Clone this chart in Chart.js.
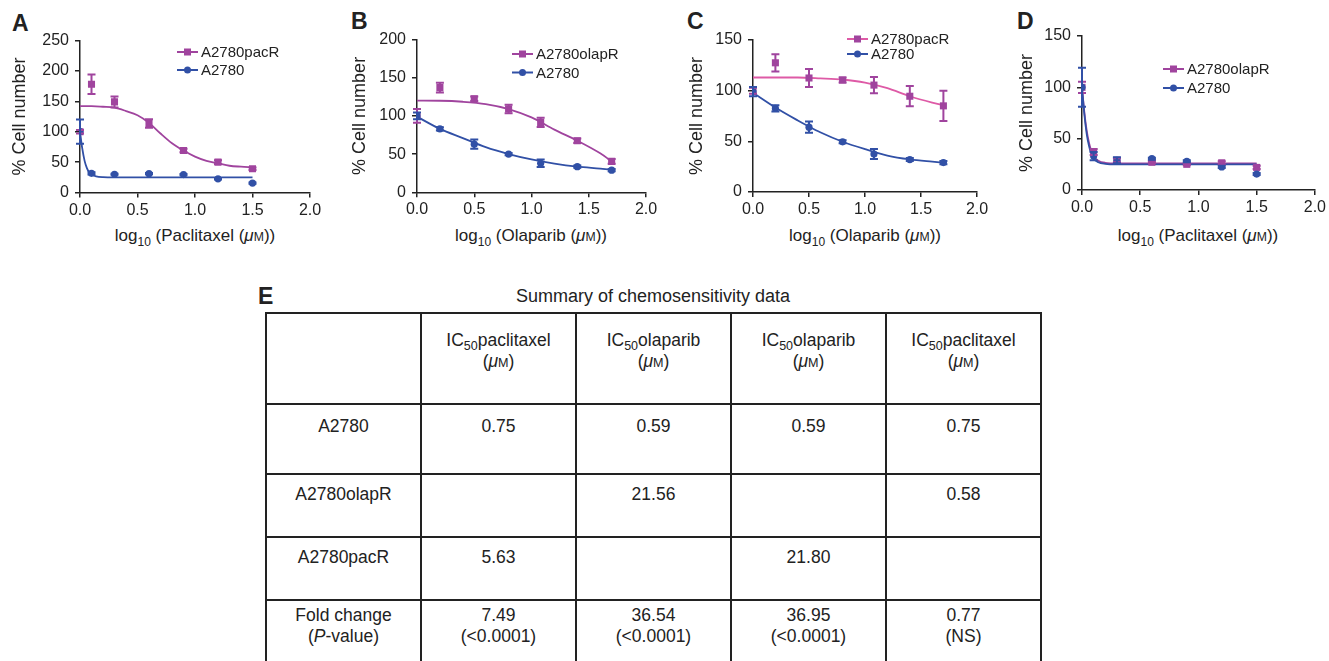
<!DOCTYPE html>
<html>
<head>
<meta charset="utf-8">
<script src="https://cdn.jsdelivr.net/npm/chart.js@4.4.1/dist/chart.umd.min.js"></script>
<style>
  body { margin: 0; width: 1329px; height: 661px; overflow: hidden; background: #fff; position: relative;
         font-family: 'Liberation Sans', Arial, sans-serif; color: #222; }
  canvas { position: absolute; top: 0; }
  .lbl { position: absolute; font-weight: bold; font-size: 23px; line-height: 23px; }
  .xt { position: absolute; top: 226px; font-size: 17px; line-height: 20px; white-space: nowrap; transform: translateX(-50%); }
  .xt sub { font-size: 12px; vertical-align: -5px; line-height: 0; }
  .sm { font-size: 0.72em; }
  #title { position: absolute; left: 265px; width: 776px; top: 286px; text-align: center; font-size: 18px; line-height: 20px; }
  #tbl { position: absolute; left: 265px; top: 312px; border-collapse: collapse; table-layout: fixed; }
  #tbl td { border: 2px solid #222; text-align: center; vertical-align: top; font-size: 17.5px; line-height: 21px;
            padding: 0; box-sizing: border-box; }
  #tbl sub { font-size: 12.5px; vertical-align: -4px; line-height: 0; }
</style>
</head>
<body>
<div class="lbl" style="left:12px;top:12px">A</div>
<div class="lbl" style="left:351px;top:10px">B</div>
<div class="lbl" style="left:687px;top:10px">C</div>
<div class="lbl" style="left:1017px;top:10px">D</div>
<div class="lbl" style="left:258px;top:285px">E</div>

<canvas id="chartA" width="325" height="225" style="left:0px"></canvas>
<canvas id="chartB" width="321" height="225" style="left:340px"></canvas>
<canvas id="chartC" width="315" height="225" style="left:677px"></canvas>
<canvas id="chartD" width="322" height="225" style="left:1007px"></canvas>

<div class="xt" style="left:195px">log<sub>10</sub> (Paclitaxel (<i>μ</i><span class="sm">M</span>))</div>
<div class="xt" style="left:531px">log<sub>10</sub> (Olaparib (<i>μ</i><span class="sm">M</span>))</div>
<div class="xt" style="left:865px">log<sub>10</sub> (Olaparib (<i>μ</i><span class="sm">M</span>))</div>
<div class="xt" style="left:1198px">log<sub>10</sub> (Paclitaxel (<i>μ</i><span class="sm">M</span>))</div>

<div id="title">Summary of chemosensitivity data</div>
<table id="tbl"></table>

<script>
// x positions (log10 concentration)
const xPaclitaxel = [0, 0.1, 0.3, 0.6, 0.9, 1.2, 1.5];
const xOlaparib = [0, 0.2, 0.5, 0.8, 1.08, 1.4, 1.7];

// Panel A - paclitaxel, A2780pacR vs A2780
const aPacR = [100, 178, 149, 113.5, 69, 50, 39];
const aPacRErr = [3, 16, 9, 7, 3, 3, 2];
const aParent = [100, 31.5, 30, 31, 29.5, 22.5, 15.5];
const aParentErr = [20, 2, 1, 1, 1, 1, 1];
const aPacRFitX = [0, 0.1, 0.2, 0.3, 0.4, 0.5, 0.6, 0.7, 0.8, 0.9, 1.0, 1.1, 1.2, 1.3, 1.4, 1.5];
const aPacRFitY = [142, 142, 141, 139.5, 134, 127, 114.5, 97, 81, 69, 59, 52, 48, 44, 42.5, 41.5];
const aParentFitX = [0, 0.02, 0.04, 0.06, 0.08, 0.1, 0.14, 0.2, 0.3, 1.5];
const aParentFitY = [100, 72, 52, 40, 33, 29.5, 26.5, 25.3, 25, 25];
const aLegend = ['A2780pacR', 'A2780'];

// Panel B - olaparib, A2780olapR vs A2780
const bOlapR = [100, 137, 122.5, 109, 91.5, 67.5, 40.5];
const bOlapRErr = [9, 6.5, 3, 5.5, 6, 3, 3];
const bParent = [100, 83, 63, 50, 38, 33.5, 29];
const bParentErr = [4.5, 2, 6, 1.5, 5, 1.5, 1.5];
const bOlapRFitX = [0, 0.2, 0.4, 0.6, 0.8, 1.0, 1.2, 1.4, 1.6, 1.7];
const bOlapRFitY = [120, 119.8, 118.5, 115.5, 109, 98, 82, 67.5, 51, 40.5];
const bParentFitX = [0, 0.2, 0.4, 0.6, 0.8, 1.0, 1.2, 1.4, 1.6, 1.7];
const bParentFitY = [99, 83, 71, 59, 50, 43, 37.5, 33.5, 31, 29.6];
const bLegend = ['A2780olapR', 'A2780'];

// Panel C - olaparib, A2780pacR vs A2780
const cPacR = [100, 127.5, 112.5, 110.5, 105.5, 94.5, 85];
const cPacRErr = [3, 8.5, 9, 2.5, 8, 10, 15];
const cParent = [99, 82.5, 64, 49.5, 37.5, 32, 29];
const cParentErr = [4.5, 3, 5.5, 1.5, 5, 1.5, 1.5];
const cPacRFitX = [0, 0.2, 0.4, 0.6, 0.8, 1.0, 1.2, 1.4, 1.6, 1.7];
const cPacRFitY = [113, 113, 113, 112.2, 111, 108, 102.4, 94.5, 88.3, 85.7];
const cParentFitX = [0, 0.2, 0.4, 0.5, 0.6, 0.8, 1.0, 1.2, 1.4, 1.6, 1.7];
const cParentFitY = [98, 83.4, 70.6, 64.6, 59, 49.6, 42.3, 36, 32.2, 29.9, 28.9];
const cLegend = ['A2780pacR', 'A2780'];

// Panel D - paclitaxel, A2780olapR vs A2780
const dOlapR = [100, 37, 29, 27, 25, 26.5, 22];
const dOlapRErr = [5.5, 3, 2, 1, 1, 1.5, 1.5];
const dParent = [100, 33, 29, 30.5, 28, 22.5, 15.5];
const dParentErr = [19, 4, 3, 1, 1, 1, 1];
const dOlapRFitX = [0, 0.02, 0.04, 0.06, 0.08, 0.1, 0.14, 0.2, 0.3, 1.5];
const dOlapRFitY = [100, 76, 58, 46, 38, 33, 28.5, 26.5, 26, 26];
const dParentFitX = [0, 0.02, 0.04, 0.06, 0.08, 0.1, 0.14, 0.2, 0.3, 1.5];
const dParentFitY = [100, 74, 55, 43, 35, 30.5, 27, 25.5, 25, 25];
const dLegend = ['A2780olapR', 'A2780'];

const xTicks = [0, 0.5, 1.0, 1.5, 2.0];

// Panel E table
const tableHeads = ['IC<sub>50</sub>paclitaxel', 'IC<sub>50</sub>olaparib', 'IC<sub>50</sub>olaparib', 'IC<sub>50</sub>paclitaxel'];
const tableRowNames = ['A2780', 'A2780olapR', 'A2780pacR', 'Fold change<br>(<i>P</i>-value)'];
const tableCells = [
  ['0.75', '0.59', '0.59', '0.75'],
  ['', '21.56', '', '0.58'],
  ['5.63', '', '21.80', ''],
  ['7.49<br>(&lt;0.0001)', '36.54<br>(&lt;0.0001)', '36.95<br>(&lt;0.0001)', '0.77<br>(NS)']
];

const BLUE = '#3150a6';
const MAG = '#a0449e';
const PINK = '#de5aa6';
const FONT = "'Liberation Sans', Arial, sans-serif";

Chart.defaults.font.family = FONT;
Chart.defaults.color = '#222';

function pts(xs, ys) {
  return xs.map((x, i) => ({ x, y: ys[i] }));
}

const errorBars = {
  id: 'errorBars',
  afterDatasetsDraw(chart) {
    const { ctx, scales: { x, y } } = chart;
    for (let i = chart.data.datasets.length - 1; i >= 0; i--) {
      const ds = chart.data.datasets[i];
      if (!ds.yErr) continue;
      ctx.save();
      ctx.strokeStyle = ds.borderColor;
      ctx.lineWidth = 2;
      ds.data.forEach((p, j) => {
        const e = ds.yErr[j];
        if (!e) return;
        const px = x.getPixelForValue(p.x);
        const top = y.getPixelForValue(p.y + e);
        const bot = y.getPixelForValue(p.y - e);
        ctx.beginPath();
        ctx.moveTo(px, top); ctx.lineTo(px, bot);
        ctx.moveTo(px - 4, top); ctx.lineTo(px + 4, top);
        ctx.moveTo(px - 4, bot); ctx.lineTo(px + 4, bot);
        ctx.stroke();
      });
      ctx.restore();
    }
  }
};

const inLegend = {
  id: 'inLegend',
  afterDraw(chart, args, opts) {
    const ctx = chart.ctx;
    ctx.save();
    ctx.font = '15px ' + FONT;
    ctx.textBaseline = 'middle';
    opts.items.forEach((it, i) => {
      const y = opts.rows[i];
      ctx.strokeStyle = it.line;
      ctx.lineWidth = 2;
      ctx.beginPath(); ctx.moveTo(opts.x, y); ctx.lineTo(opts.x + 21, y); ctx.stroke();
      ctx.fillStyle = it.mark;
      const cx = opts.x + 10.5;
      if (it.shape === 'rect') ctx.fillRect(cx - 3.5, y - 3.5, 7, 7);
      else { ctx.beginPath(); ctx.arc(cx, y, 3.5, 0, Math.PI * 2); ctx.fill(); }
      ctx.fillStyle = '#222';
      ctx.fillText(it.label, opts.x + 24, y + 1);
    });
    ctx.restore();
  }
};

function drawPanel(id, d, lay) {
  const axisStyle = {
    grid: { drawOnChartArea: false, tickLength: 5, color: '#222', lineWidth: 1.5 },
    border: { color: '#222', width: 1.5 }
  };
  return new Chart(document.getElementById(id), {
    type: 'scatter',
    data: {
      datasets: [
        { data: pts(d.x, d.blue), yErr: d.blueErr, backgroundColor: BLUE, borderColor: BLUE,
          pointStyle: 'circle', pointRadius: 3.6, borderWidth: 0 },
        { data: pts(d.x, d.mag), yErr: d.magErr, backgroundColor: MAG, borderColor: MAG,
          pointStyle: 'rect', pointRadius: 5, borderWidth: 0 },
        { data: pts(d.blueFitX, d.blueFitY), showLine: true, borderColor: BLUE, borderWidth: 1.8,
          pointRadius: 0, cubicInterpolationMode: 'monotone' },
        { data: pts(d.magFitX, d.magFitY), showLine: true, borderColor: d.magLine, borderWidth: 1.8,
          pointRadius: 0, cubicInterpolationMode: 'monotone' }
      ]
    },
    options: {
      responsive: false,
      animation: false,
      events: [],
      layout: { padding: { top: lay.top, right: lay.right, left: 0, bottom: 0 } },
      plugins: {
        legend: { display: false },
        tooltip: { enabled: false },
        inLegend: {
          x: lay.legX, rows: lay.legRows,
          items: [
            { label: d.legend[0], line: d.magLine, mark: MAG, shape: 'rect' },
            { label: d.legend[1], line: BLUE, mark: BLUE, shape: 'circle' }
          ]
        }
      },
      scales: {
        x: {
          type: 'linear', min: 0, max: 2,
          afterFit: s => { s.height = lay.xH; },
          afterBuildTicks: s => { s.ticks = xTicks.map(v => ({ value: v })); },
          ticks: { callback: v => v.toFixed(1), font: { size: 16 }, padding: 3, maxRotation: 0, color: '#222' },
          ...axisStyle
        },
        y: {
          min: 0, max: d.yMax,
          afterFit: s => { s.width = lay.yW; },
          ticks: { stepSize: 50, font: { size: 16 }, padding: 6, color: '#222' },
          title: { display: true, text: '% Cell number', font: { size: 18 }, color: '#222', padding: { top: 9, bottom: 0 } },
          ...axisStyle
        }
      }
    },
    plugins: [errorBars, inLegend]
  });
}

drawPanel('chartA', {
  x: xPaclitaxel, mag: aPacR, magErr: aPacRErr, blue: aParent, blueErr: aParentErr,
  magFitX: aPacRFitX, magFitY: aPacRFitY, blueFitX: aParentFitX, blueFitY: aParentFitY,
  magLine: MAG, legend: aLegend, yMax: 250
}, { top: 40.5, right: 15, xH: 32.5, yW: 80, legX: 177, legRows: [52, 70] });

drawPanel('chartB', {
  x: xOlaparib, mag: bOlapR, magErr: bOlapRErr, blue: bParent, blueErr: bParentErr,
  magFitX: bOlapRFitX, magFitY: bOlapRFitY, blueFitX: bParentFitX, blueFitY: bParentFitY,
  magLine: MAG, legend: bLegend, yMax: 200
}, { top: 39.5, right: 15, xH: 32.7, yW: 77, legX: 172, legRows: [54, 72.5] });

drawPanel('chartC', {
  x: xOlaparib, mag: cPacR, magErr: cPacRErr, blue: cParent, blueErr: cParentErr,
  magFitX: cPacRFitX, magFitY: cPacRFitY, blueFitX: cParentFitX, blueFitY: cParentFitY,
  magLine: PINK, legend: cLegend, yMax: 150
}, { top: 40, right: 15, xH: 33, yW: 76, legX: 170, legRows: [39, 54] });

drawPanel('chartD', {
  x: xPaclitaxel, mag: dOlapR, magErr: dOlapRErr, blue: dParent, blueErr: dParentErr,
  magFitX: dOlapRFitX, magFitY: dOlapRFitY, blueFitX: dParentFitX, blueFitY: dParentFitY,
  magLine: MAG, legend: dLegend, yMax: 150
}, { top: 36, right: 14, xH: 35, yW: 75, legX: 156, legRows: [69, 88] });

// summary table
const rowHeights = [91, 70, 63, 63, 80];
const rowPadTop = [16, 11, 9, 9, 4];
const unit = '(<i>μ</i><span class="sm">M</span>)';
let html = '<colgroup>' + '<col style="width:155px">'.repeat(5) + '</colgroup>';
html += `<tr style="height:${rowHeights[0]}px"><td style="padding-top:${rowPadTop[0]}px"></td>` +
  tableHeads.map(h => `<td style="padding-top:${rowPadTop[0]}px">${h}<br>${unit}</td>`).join('') + '</tr>';
tableRowNames.forEach((name, r) => {
  const pt = rowPadTop[r + 1];
  html += `<tr style="height:${rowHeights[r + 1]}px"><td style="padding-top:${pt}px">${name}</td>` +
    tableCells[r].map(c => `<td style="padding-top:${pt}px">${c}</td>`).join('') + '</tr>';
});
document.getElementById('tbl').innerHTML = html;
</script>
</body>
</html>
